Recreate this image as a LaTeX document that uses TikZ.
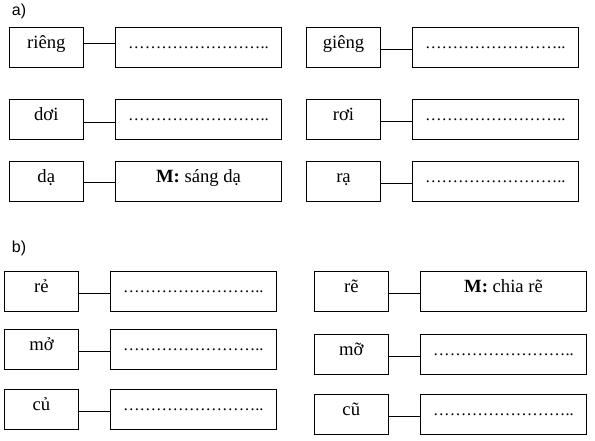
\documentclass[tikz,border=0pt]{standalone}
\usepackage{fontspec}
\setmainfont{Liberation Serif}
\newfontfamily\partfont{Liberation Sans}
\usepackage{tikz}

\begin{document}
\begin{tikzpicture}[x=0.75pt, y=-0.75pt,
  every node/.style={font=\fontsize{14}{16}\selectfont},
  word/.style={draw, line width=0.75pt, inner sep=0pt, minimum width=55.5pt, minimum height=30pt, text height=8pt, text depth=6.5pt},
  answer/.style={word, minimum width=124.5pt},
  blank/.style={answer, font=\fontsize{12.4}{14}\selectfont},
  part/.style={font=\partfont\fontsize{12}{14}\selectfont, inner sep=0pt, anchor=west},
  link/.style={line width=0.75pt}]
\useasboundingbox (0,0) rectangle (595,440);
% a)
\node[part] (pa) at (11.7,11) {a)};
\node[word] (rieng) at (46.3,47.3) {riêng};
\node[blank] (rieng2) at (198.5,47.3) {……………………..};
\node[word] (gieng) at (343.5,47.3) {giêng};
\node[blank] (gieng2) at (495.3,47.3) {……………………..};
\node[word] (doi) at (46.3,119.3) {dơi};
\node[blank] (doi2) at (198.5,119.3) {……………………..};
\node[word] (roi) at (343.5,119.3) {rơi};
\node[blank] (roi2) at (495.3,119.3) {……………………..};
\node[word] (da) at (46.3,181.5) {dạ};
\node[answer] (da2) at (198.5,181.5) {\textbf{M:} sáng dạ};
\node[word] (ra) at (343.5,181.5) {rạ};
\node[blank] (ra2) at (495.3,181.5) {……………………..};
\draw[link] ([yshift=2.5pt]rieng.east) -- ([yshift=2.5pt]rieng2.west);
\draw[link] ([yshift=-1.5pt]gieng.east) -- ([yshift=-1.5pt]gieng2.west);
\draw[link] ([yshift=-2.25pt]doi.east) -- ([yshift=-2.25pt]doi2.west);
\draw[link] ([yshift=-1.5pt]roi.east) -- ([yshift=-1.5pt]roi2.west);
\draw[link] ([yshift=-1.1pt]da.east) -- ([yshift=-1.1pt]da2.west);
\draw[link] ([yshift=-1.3pt]ra.east) -- ([yshift=-1.3pt]ra2.west);
% b)
\node[part] (pb) at (11.7,248.8) {b)};
\node[word] (re) at (41.5,291.4) {rẻ};
\node[blank] (re2) at (193.3,291.4) {……………………..};
\node[word] (mo) at (41.5,349.3) {mở};
\node[blank] (mo2) at (193.3,349.3) {……………………..};
\node[word] (cu) at (41.5,409.3) {củ};
\node[blank] (cu2) at (193.3,409.3) {……………………..};
\node[word] (ren) at (351.3,291.4) {rẽ};
\node[answer] (ren2) at (503.5,291.4) {\textbf{M:} chia rẽ};
\node[word] (mon) at (351.3,354.3) {mỡ};
\node[blank] (mon2) at (503.5,354.3) {……………………..};
\node[word] (cun) at (351.3,414.2) {cũ};
\node[blank] (cun2) at (503.5,414.2) {……………………..};
\draw[link] ([yshift=-1.2pt]re.east) -- ([yshift=-1.2pt]re2.west);
\draw[link] ([yshift=-1.5pt]mo.east) -- ([yshift=-1.5pt]mo2.west);
\draw[link] ([yshift=-1.8pt]cu.east) -- ([yshift=-1.8pt]cu2.west);
\draw[link] ([yshift=-1.2pt]ren.east) -- ([yshift=-1.2pt]ren2.west);
\draw[link] ([yshift=-1.5pt]mon.east) -- ([yshift=-1.5pt]mon2.west);
\draw[link] ([yshift=-1.6pt]cun.east) -- ([yshift=-1.6pt]cun2.west);
\end{tikzpicture}
\end{document}
